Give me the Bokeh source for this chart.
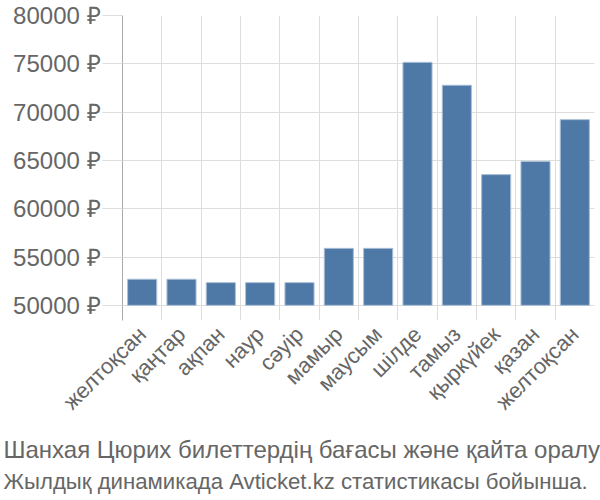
from bokeh.plotting import figure
from bokeh.models import FixedTicker, Range1d, Title, ColumnDataSource
from bokeh.embed import file_html
from bokeh.resources import INLINE

months = ["желтоқсан", "қаңтар", "ақпан", "наур", "сәуір", "мамыр",
          "маусым", "шілде", "тамыз", "қыркүйек", "қазан", "желтоқсан"]
prices = [52700, 52700, 52350, 52350, 52350, 55900,
          55900, 75150, 72780, 63530, 64900, 69220]
y_ticks = [50000, 55000, 60000, 65000, 70000, 75000, 80000]
y_tick_labels = [f"{t} ₽" for t in y_ticks]
caption = ["Шанхая Цюрих билеттердің бағасы және қайта оралу",
           "Жылдық динамикада Avticket.kz статистикасы бойынша."]
caption_sizes = ["24px", "22.2px"]

base = 50000
xs = [i + 0.5 for i in range(len(months))]
src = ColumnDataSource(dict(x=xs, top=prices, bottom=[base] * len(prices)))

p = figure(frame_width=472, frame_height=305, output_backend="svg", toolbar_location=None,
           x_range=Range1d(0, len(months)), y_range=Range1d(48430, 80000),
           min_border_left=122, min_border_right=6, min_border_top=15,
           min_border_bottom=180)
p.outline_line_color = None
p.background_fill_color = "white"

p.vbar(x="x", top="top", bottom="bottom", width=0.74, source=src,
       fill_color="#4e79a7", line_color="#a9bfd6", line_width=1)

TXT = "#666666"
GRID = "#dddddd"
FONT = "Liberation Sans"

# y axis
ya = p.yaxis[0]
ya.ticker = FixedTicker(ticks=y_ticks)
ya.major_label_overrides = {t: l for t, l in zip(y_ticks, y_tick_labels)}
ya.major_label_text_font = FONT
ya.major_label_text_font_size = "24px"
ya.major_label_text_color = TXT
ya.axis_line_color = "#aaaaaa"
ya.axis_line_width = 1
ya.major_tick_out = 20
ya.major_tick_in = 0
ya.major_tick_line_color = GRID
ya.minor_tick_line_color = None
ya.major_label_standoff = 2

# x axis
xa = p.xaxis[0]
xa.ticker = FixedTicker(ticks=xs)
xa.major_label_overrides = {x: m for x, m in zip(xs, months)}
xa.major_label_orientation = 0.7854
xa.major_label_text_font = FONT
xa.major_label_text_font_size = "22px"
xa.major_label_text_color = TXT
xa.axis_line_color = None
xa.major_tick_line_color = None
xa.minor_tick_line_color = None
xa.major_label_standoff = 4

p.xgrid.ticker = FixedTicker(ticks=list(range(len(months) + 1)))
p.xgrid.grid_line_color = GRID
p.ygrid.ticker = FixedTicker(ticks=y_ticks)
p.ygrid.grid_line_color = GRID

for i, (line, size) in enumerate(zip(caption, caption_sizes)):
    t = Title(text=line, align="left", text_font=FONT, text_font_size=size,
              text_font_style="normal", text_color=TXT, offset=-119,
              standoff=(14 if i == 0 else -6), text_line_height=1.0)
    p.add_layout(t, "below")

open("out.html", "w").write(file_html(p, INLINE))
